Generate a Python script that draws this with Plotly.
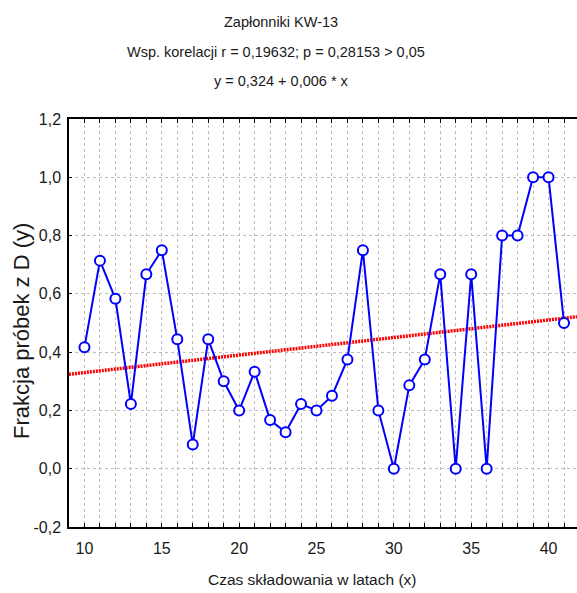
import numpy as np
import plotly.graph_objects as go

# ---- data ----
years = list(range(10, 42))
fraction = [0.417, 0.714, 0.583, 0.222, 0.667, 0.750, 0.444, 0.083,
            0.444, 0.300, 0.200, 0.333, 0.167, 0.125, 0.222, 0.200,
            0.250, 0.375, 0.750, 0.200, 0.000, 0.286, 0.375, 0.667,
            0.000, 0.667, 0.000, 0.800, 0.800, 1.000, 1.000, 0.500]
title_lines = ["Zapłonniki KW-13",
               "Wsp. korelacji r = 0,19632; p = 0,28153 > 0,05",
               "y = 0,324 + 0,006 * x"]
y_tickvals = [-0.2, 0.0, 0.2, 0.4, 0.6, 0.8, 1.0, 1.2]
y_ticktext = ["-0,2", "0,0", "0,2", "0,4", "0,6", "0,8", "1,0", "1,2"]
x_tickvals = list(range(9, 42))
x_ticktext = [str(v) if v % 5 == 0 else "" for v in x_tickvals]
x_title = "Czas składowania w latach (x)"
y_title = "Frakcja próbek z D (y)"

X_RANGE = [9, 41.84]
Y_RANGE = [-0.2, 1.2]

slope, intercept = np.polyfit(years, fraction, 1)
fit_x = np.array(X_RANGE)
fit_y = intercept + slope * fit_x

FONT = "Liberation Sans, Arial, sans-serif"
TXT = "#1a1a1a"

fig = go.Figure()
fig.add_trace(go.Scatter(
    x=fit_x, y=fit_y, mode="lines",
    line=dict(color="#ff0000", width=3.5, dash="2px,1px"),
    hoverinfo="skip"))
fig.add_trace(go.Scatter(
    x=years, y=fraction, mode="lines+markers",
    line=dict(color="#0000ff", width=2),
    marker=dict(symbol="circle", size=10, color="white",
                line=dict(color="#0000ff", width=2)),
    cliponaxis=False))

W, H = 577, 593
L, R, T, B = 69, 0, 119, 66
plot_h = H - T - B

def ypaper(py):
    return (H - B - py) / plot_h

annotations = []
title_pos = [(281, 22), (276, 52), (281, 81)]
for txt, (px, py) in zip(title_lines, title_pos):
    annotations.append(dict(text=txt, xref="paper", yref="paper",
                            x=(px - L) / (W - L - R), y=ypaper(py),
                            xanchor="center", yanchor="middle", showarrow=False,
                            font=dict(size=14.5, color=TXT, family=FONT)))
annotations.append(dict(text=x_title, xref="paper", yref="paper",
                        x=(312 - L) / (W - L - R), y=ypaper(579),
                        xanchor="center", yanchor="middle", showarrow=False,
                        font=dict(size=15.5, color=TXT, family=FONT)))
annotations.append(dict(text=y_title, xref="paper", yref="paper",
                        x=(21 - L) / (W - L - R), y=ypaper(331),
                        xanchor="center", yanchor="middle", showarrow=False,
                        textangle=-90,
                        font=dict(size=22, color=TXT, family=FONT)))

fig.update_layout(
    width=W, height=H,
    margin=dict(l=L, r=R, t=T, b=B, pad=0),
    paper_bgcolor="white", plot_bgcolor="white",
    showlegend=False,
    font=dict(family=FONT, size=16, color=TXT),
    annotations=annotations,
)
fig.update_xaxes(
    range=X_RANGE, tickmode="array", tickvals=x_tickvals, ticktext=x_ticktext,
    showline=True, linecolor="black", linewidth=1.5, mirror="allticks",
    ticks="inside", ticklen=4, tickcolor="black", tickwidth=1,
    showgrid=True, gridcolor="#bdbdbd", griddash="dot", gridwidth=1,
    zeroline=False, tickfont=dict(size=16, family=FONT, color=TXT),
    ticklabelstandoff=6,
)
fig.update_yaxes(
    range=Y_RANGE, tickmode="array", tickvals=y_tickvals, ticktext=y_ticktext,
    showline=True, linecolor="black", linewidth=1.5,
    ticks="inside", ticklen=3, tickcolor="black", tickwidth=1,
    showgrid=True, gridcolor="#bdbdbd", griddash="dot", gridwidth=1,
    zeroline=False, tickfont=dict(size=16, family=FONT, color=TXT),
    ticklabelstandoff=3,
)

fig.write_html("out.html")
